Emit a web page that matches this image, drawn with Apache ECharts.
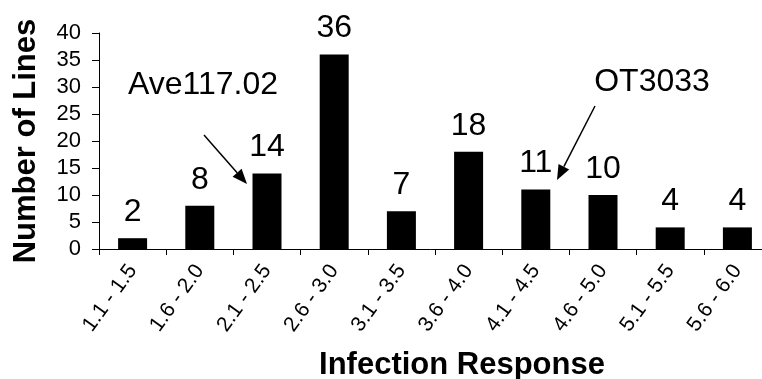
<!DOCTYPE html>
<html>
<head>
<meta charset="utf-8">
<script src="https://cdn.jsdelivr.net/npm/echarts@6/dist/echarts.min.js"></script>
<style>
html,body{margin:0;padding:0;background:#fff;}
#chart{width:762px;height:379px;}
</style>
</head>
<body>
<div id="chart"></div>
<script>
var categories = ['1.1 - 1.5','1.6 - 2.0','2.1 - 2.5','2.6 - 3.0','3.1 - 3.5','3.6 - 4.0','4.1 - 4.5','4.6 - 5.0','5.1 - 5.5','5.6 - 6.0'];
var lineCounts = [2, 8, 14, 36, 7, 18, 11, 10, 4, 4];
var yTicks = {min: 0, max: 40, interval: 5};
var annotations = [
  {text: 'Ave117.02', tx: 203, ty: 85, from: [204, 135], to: [247, 184]},
  {text: 'OT3033', tx: 652, ty: 82, from: [595, 106], to: [557, 180]}
];

var FONT = '"Liberation Sans", Arial, sans-serif';
var chart = echarts.init(document.getElementById('chart'), null, {renderer: 'canvas'});

function arrowGraphics(a) {
  var dx = a.to[0] - a.from[0], dy = a.to[1] - a.from[1];
  var len = Math.sqrt(dx*dx + dy*dy);
  var ux = dx/len, uy = dy/len;
  var hl = 15, hw = 6;
  var bx = a.to[0] - ux*hl, by = a.to[1] - uy*hl;
  var px = -uy, py = ux;
  return [
    {type: 'line', shape: {x1: a.from[0], y1: a.from[1], x2: bx, y2: by}, style: {stroke: '#000', lineWidth: 1.5}},
    {type: 'polygon', shape: {points: [[a.to[0], a.to[1]], [bx + px*hw, by + py*hw], [bx - px*hw, by - py*hw]]}, style: {fill: '#000'}},
    {type: 'text', x: a.tx, y: a.ty, style: {text: a.text, font: '32px ' + FONT, fill: '#000', textAlign: 'center', textVerticalAlign: 'middle'}}
  ];
}
var graphics = [];
annotations.forEach(function (a) { graphics = graphics.concat(arrowGraphics(a)); });

chart.setOption({
  animation: false,
  backgroundColor: '#fff',
  grid: {left: 99, top: 33, width: 672, height: 216, containLabel: false, outerBoundsMode: 'none'},
  xAxis: {
    type: 'category',
    data: categories,
    name: 'Infection Response',
    nameLocation: 'middle',
    nameGap: 101,
    nameTextStyle: {fontFamily: FONT, fontSize: 31, fontWeight: 'bold', color: '#000', padding: [0, 0, 0, 54]},
    axisLine: {lineStyle: {color: '#000', width: 1}},
    axisTick: {show: true, length: 6, lineStyle: {color: '#000'}, alignWithLabel: false},
    axisLabel: {rotate: 54, fontFamily: FONT, fontSize: 21, color: '#000', margin: 18, interval: 0}
  },
  yAxis: {
    type: 'value',
    min: yTicks.min, max: yTicks.max, interval: yTicks.interval,
    name: 'Number of Lines',
    nameLocation: 'middle',
    nameGap: 57,
    nameTextStyle: {fontFamily: FONT, fontSize: 31, fontWeight: 'bold', color: '#000'},
    axisLine: {show: true, lineStyle: {color: '#000', width: 1}},
    axisTick: {show: true, length: 7, lineStyle: {color: '#000'}},
    axisLabel: {fontFamily: FONT, fontSize: 22, color: '#000', margin: 18},
    splitLine: {show: false}
  },
  series: [{
    type: 'bar',
    data: lineCounts,
    barWidth: 29,
    itemStyle: {color: '#000'},
    label: {show: true, position: 'top', distance: 10, fontFamily: FONT, fontSize: 32, color: '#000'}
  }],
  graphic: graphics
});
</script>
</body>
</html>
